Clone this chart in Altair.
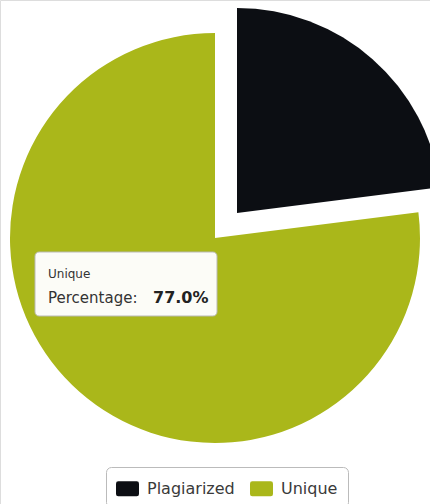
import altair as alt
import pandas as pd

categories = ["Plagiarized", "Unique"]
percentages = [23.0, 77.0]
order = [0, 1]
colors = ["#0c0e13", "#aab71a"]

df = pd.DataFrame({"category": categories, "pct": percentages, "ord": order})

tip_category = categories[1]
tip_prefix = "Percentage:"
tip_value = f"{percentages[1]:.1f}%"

base = alt.Chart(df).transform_window(
    end="sum(pct)", sort=[alt.SortField("ord")], frame=[None, 0]
).transform_calculate(start="datum.end - datum.pct")

rounded_rect = (
    "M-0.8,-0.65 L0.8,-0.65 Q1,-0.65 1,-0.45 L1,0.45 Q1,0.65 0.8,0.65 "
    "L-0.8,0.65 Q-1,0.65 -1,0.45 L-1,-0.45 Q-1,-0.65 -0.8,-0.65 Z"
)

theta_scale = alt.Scale(domain=[0, 100], range=[0, 6.283185307])
color_enc = alt.Color(
    "category:N",
    scale=alt.Scale(domain=categories, range=colors),
    legend=alt.Legend(
        title=None,
        orient="none",
        legendX=106,
        legendY=467,
        direction="horizontal",
        symbolType=rounded_rect,
        symbolSize=529,
        symbolStrokeWidth=0,
        labelFontSize=16,
        labelFont="DejaVu Sans",
        labelColor="#3a3a3a",
        labelOffset=8,
        columnPadding=15,
        padding=10,
        strokeColor="#bbbbbb",
        cornerRadius=5,
    ),
)

unique = base.transform_filter(alt.datum.category == "Unique").mark_arc(
    outerRadius=205
).encode(
    theta=alt.Theta("start:Q", scale=theta_scale),
    theta2="end:Q",
    color=color_enc,
    x=alt.value(215),
    y=alt.value(238),
)

plag = base.transform_filter(alt.datum.category == "Plagiarized").mark_arc(
    outerRadius=205
).encode(
    theta=alt.Theta("start:Q", scale=theta_scale),
    theta2="end:Q",
    color=color_enc,
    x=alt.value(237),
    y=alt.value(213),
)

tipdf = pd.DataFrame({"cat": [tip_category], "pre": [tip_prefix], "val": [tip_value]})
tip_base = alt.Chart(tipdf)
tip_box = tip_base.mark_rect(
    fill="white", stroke="#bbbbbb", strokeWidth=1, cornerRadius=4, opacity=0.97
).encode(x=alt.value(35), x2=alt.value(217), y=alt.value(252), y2=alt.value(316))
tip_cat = tip_base.mark_text(
    align="left", baseline="alphabetic", font="DejaVu Sans", fontSize=12, color="#333333"
).encode(text="cat:N", x=alt.value(48), y=alt.value(278))
tip_pre = tip_base.mark_text(
    align="left", baseline="alphabetic", font="DejaVu Sans", fontSize=15, color="#333333"
).encode(text="pre:N", x=alt.value(48), y=alt.value(303))
tip_val = tip_base.mark_text(
    align="left", baseline="alphabetic", font="DejaVu Sans", fontSize=16,
    fontWeight="bold", color="#222222"
).encode(text="val:N", x=alt.value(153), y=alt.value(303))

chart = alt.layer(unique, plag, tip_box, tip_cat, tip_pre, tip_val).properties(
    width=430, height=504, padding=0, autosize=alt.AutoSizeParams(type="none")
).configure_view(stroke=None).configure(background="white")

chart.save("out.html", embed_options={"renderer": "svg", "actions": False})
